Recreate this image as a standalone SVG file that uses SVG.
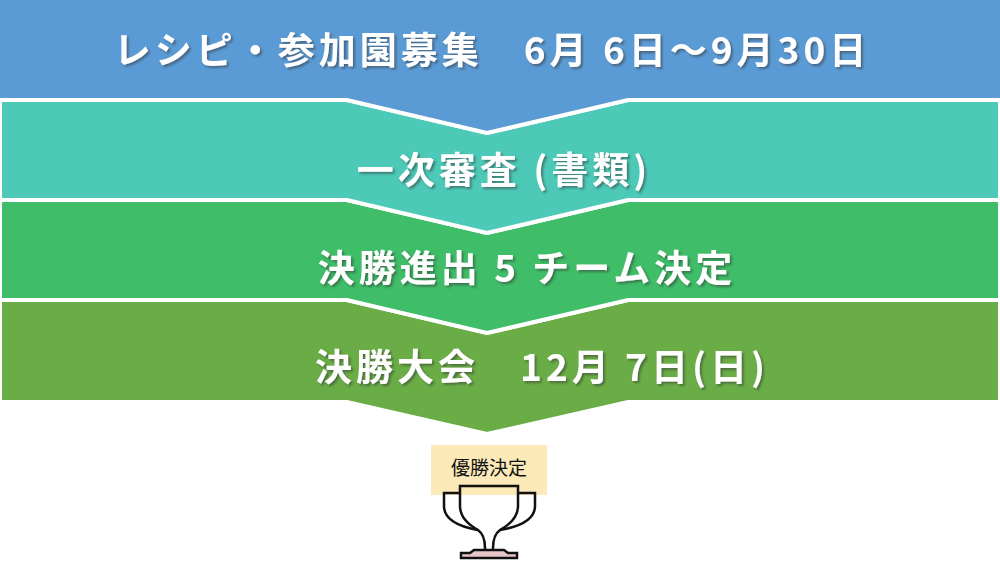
<svg xmlns="http://www.w3.org/2000/svg" width="1000" height="570" viewBox="0 0 1000 570">
<defs>
<filter id="sh" x="-5%" y="-20%" width="110%" height="140%"><feDropShadow dx="2" dy="2" stdDeviation="1" flood-color="#333" flood-opacity="0.5"/></filter>
<style>
.band{stroke:#fff;stroke-width:4}
.t{font-family:"Noto Sans CJK JP","Noto Sans",sans-serif;font-weight:bold;font-size:37px;letter-spacing:4px;fill:#fff;text-anchor:middle;filter:url(#sh)}
.tr{fill:none;stroke:#111;stroke-width:2.5}
</style>
</defs>
<rect width="1000" height="570" fill="#fff"/>
<g id="band4"><path class="band" d="M0 300 H347 L487 333 L628 300 H1000 V402 H628 L487 434 L347 402 H0 Z" fill="#6aad46"/><text class="t" x="542" y="381">決勝大会　12月 7日(日)</text></g>
<g id="band3"><path class="band" d="M0 200 H347 L487 233 L628 200 H1000 V300 H628 L487 333 L347 300 H0 Z" fill="#3fbd68"/><text class="t" x="527" y="282">決勝進出 5 チーム決定</text></g>
<g id="band2"><path class="band" d="M0 100 H347 L487 133 L628 100 H1000 V200 H628 L487 233 L347 200 H0 Z" fill="#4dc9b8"/><text class="t" x="504" y="184">一次審査 (書類)</text></g>
<g id="band1"><path class="band" d="M-5 -5 H1005 V100 H628 L487 133 L347 100 H-5 Z" fill="#5b9bd5"/><text class="t" x="492" y="64">レシピ・参加園募集　6月 6日～9月30日</text></g>
<g id="trophy">
<rect x="431" y="445" width="116" height="50" fill="#fbe9b7"/>
<text x="489" y="475" font-family="Noto Sans CJK JP,sans-serif" font-size="19" fill="#111" text-anchor="middle">優勝決定</text>
<path class="tr" d="M460 486 H518 V506 Q518 520 500 530 Q493 535 493 548 V551 H485 V548 Q485 535 478 530 Q460 520 460 506 Z"/>
<path class="tr" d="M460 493 H444 V506 Q444 524 478 530 M518 493 H535 V506 Q535 524 500 530"/>
<path d="M474 550 H504 L508 553 H517 V558 H461 V553 H470 Z" fill="#e8c6c8" stroke="#111" stroke-width="2.5"/>
</g>
</svg>
